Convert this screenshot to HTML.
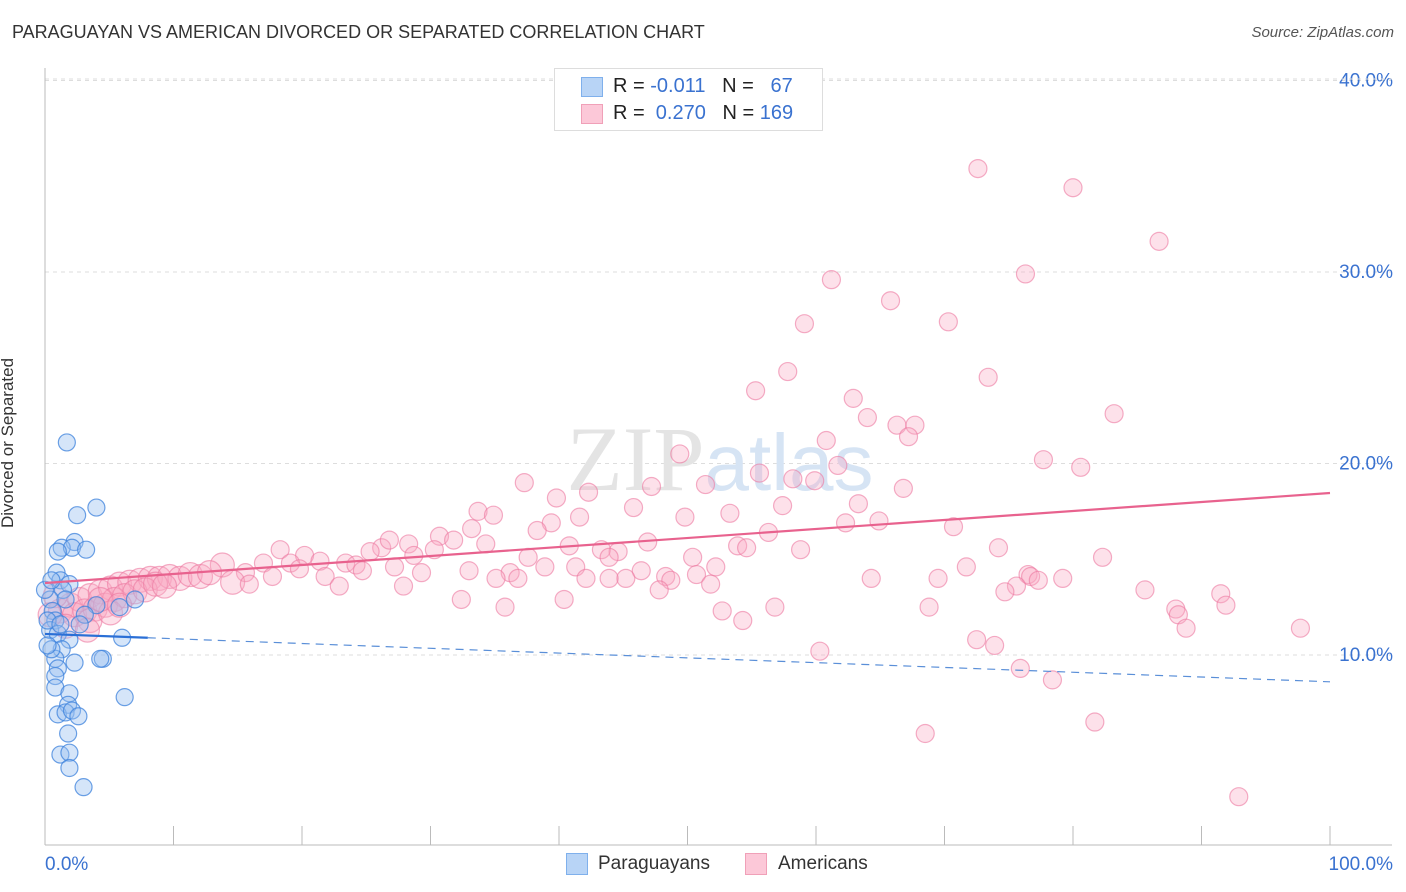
<!DOCTYPE html>
<html><head><meta charset="utf-8">
<style>
body{margin:0;background:#fff;font-family:"Liberation Sans",sans-serif;}
#wrap{position:relative;width:1406px;height:892px;overflow:hidden;}
.t{position:absolute;white-space:nowrap;}
</style></head>
<body>
<div id="wrap">
<div class="t" style="left:12px;top:22px;font-size:18px;color:#333;">PARAGUAYAN VS AMERICAN DIVORCED OR SEPARATED CORRELATION CHART</div>
<div class="t" style="right:12px;top:24px;font-size:15px;color:#555;font-style:italic;">Source: ZipAtlas.com</div>
<div class="t" style="left:8px;top:455px;font-size:17px;color:#333;transform:translate(0,-50%) rotate(-90deg);transform-origin:center;width:0;display:flex;justify-content:center;"><span style="display:inline-block;transform:translateX(12px)">Divorced or Separated</span></div>
<svg id="plot" width="1406" height="892" style="position:absolute;left:0;top:0"></svg>
<div class="t" style="left:554px;top:68px;width:267px;height:61px;border:1px solid #ddd;background:#fff;">
 <div style="position:absolute;left:26px;top:8px;width:20px;height:18px;background:#b8d4f6;border:1px solid #7fb0ec;"></div>
 <div style="position:absolute;left:26px;top:35px;width:20px;height:18px;background:#fcc8d8;border:1px solid #f0a0b8;"></div>
 <div style="position:absolute;left:58px;top:6px;font-size:20px;color:#222">R = <span style="color:#3a72d0">-0.011</span>&nbsp;&nbsp;&nbsp;N = &nbsp;&nbsp;<span style="color:#3a72d0">67</span></div>
 <div style="position:absolute;left:58px;top:33px;font-size:20px;color:#222">R = &nbsp;<span style="color:#3a72d0">0.270</span>&nbsp;&nbsp;&nbsp;N = <span style="color:#3a72d0">169</span></div>
</div>
<div class="t" style="left:566px;top:853px;width:20px;height:20px;background:#b8d4f6;border:1px solid #7fb0ec;"></div>
<div class="t" style="left:598px;top:853px;font-size:19px;color:#333">Paraguayans</div>
<div class="t" style="left:745px;top:853px;width:20px;height:20px;background:#fcc8d8;border:1px solid #f0a0b8;"></div>
<div class="t" style="left:778px;top:853px;font-size:19px;color:#333">Americans</div>
</div>
<script>
const yTicks=[10,20,30,40];
const yTickLabels=["10.0%","20.0%","30.0%","40.0%"];
const xTicks=[0,10,20,30,40,50,60,70,80,90,100];
const xEndLabels=["0.0%","100.0%"];
const pinkX=[72.6,80.0,86.7,61.2,76.3,65.8,59.1,70.3,57.8,73.4,55.3,62.9,83.2,64.0,66.3,67.7,67.2,60.8,49.4,77.7,80.6,61.7,55.6,58.2,59.9,37.3,42.3,47.2,51.4,66.8,39.8,63.3,57.4,45.8,33.7,53.3,34.9,49.8,41.6,39.4,64.9,62.3,70.7,33.2,30.7,56.3,38.3,31.8,34.3,28.3,26.2,26.8,30.3,28.7,25.3,40.8,43.3,46.9,53.9,54.6,58.8,74.2,44.6,43.9,50.4,82.3,37.6,18.3,20.2,21.4,23.4,19.1,17.0,24.2,13.8,27.2,38.9,52.2,71.7,33.0,29.3,24.7,19.8,36.2,41.3,46.4,76.5,76.7,50.7,48.3,21.8,35.1,36.8,42.1,45.2,64.3,69.5,79.2,77.3,48.7,43.9,51.8,75.6,74.7,85.6,91.5,47.8,27.9,22.9,17.7,15.6,14.6,15.9,32.4,40.4,91.9,68.8,56.8,52.7,88.0,88.2,35.8,54.3,88.8,97.7,72.5,73.9,60.3,75.9,78.4,81.7,68.5,92.9,1.2,2.0,2.7,3.5,4.3,5.1,5.8,6.6,7.4,8.2,8.9,9.7,10.5,11.3,12.1,12.8,2.3,3.1,3.9,4.7,5.4,6.2,7.0,7.8,8.6,9.3,1.6,3.5,5.1,0.8,4.3,0.4,3.3,5.8];
const pinkY=[35.4,34.4,31.6,29.6,29.9,28.5,27.3,27.4,24.8,24.5,23.8,23.4,22.6,22.4,22.0,22.0,21.4,21.2,20.5,20.2,19.8,19.9,19.5,19.2,19.1,19.0,18.5,18.8,18.9,18.7,18.2,17.9,17.8,17.7,17.5,17.4,17.3,17.2,17.2,16.9,17.0,16.9,16.7,16.6,16.2,16.4,16.5,16.0,15.8,15.8,15.6,16.0,15.5,15.2,15.4,15.7,15.5,15.9,15.7,15.6,15.5,15.6,15.4,15.1,15.1,15.1,15.1,15.5,15.2,14.9,14.8,14.8,14.8,14.7,14.7,14.6,14.6,14.6,14.6,14.4,14.3,14.4,14.5,14.3,14.6,14.4,14.2,14.1,14.2,14.1,14.1,14.0,14.0,14.0,14.0,14.0,14.0,14.0,13.9,13.9,14.0,13.7,13.6,13.3,13.4,13.2,13.4,13.6,13.6,14.1,14.3,13.8,13.7,12.9,12.9,12.6,12.5,12.5,12.3,12.4,12.1,12.5,11.8,11.4,11.4,10.8,10.5,10.2,9.3,8.7,6.5,5.9,2.6,12.3,12.6,12.9,13.1,13.3,13.5,13.7,13.8,13.9,14.0,14.0,14.1,14.0,14.2,14.1,14.3,12.1,12.3,12.4,12.6,12.9,13.1,13.3,13.4,13.7,13.6,11.5,11.8,12.2,13.1,12.9,12.1,11.3,12.6];
const blueX=[1.7,4.0,2.5,2.3,1.3,2.1,3.2,1.0,0.9,1.2,1.9,1.4,0.4,0.6,0.8,0.4,1.0,1.9,6.0,7.0,5.8,4.0,3.1,1.3,0.8,1.0,2.3,4.5,4.3,0.8,0.8,1.9,6.2,1.8,1.0,1.6,2.1,2.6,1.8,1.2,1.9,1.9,3.0,0.5,0.2,0.0,0.5,1.6,2.7,0.2,1.2];
const blueY=[21.1,17.7,17.3,15.9,15.6,15.6,15.5,15.4,14.3,13.9,13.7,13.4,12.9,12.3,11.8,11.3,11.1,10.8,10.9,12.9,12.5,12.6,12.1,10.3,9.8,9.3,9.6,9.8,9.8,8.9,8.3,8.0,7.8,7.4,6.9,7.0,7.1,6.8,5.9,4.8,4.9,4.1,3.1,10.3,11.8,13.4,13.9,12.9,11.6,10.5,11.6];
const pinkTrend=[13.76,18.46];
const blueTrend=[11.1,8.6];
const blueSolidEnd=8;

const X0=45,X1=1330,Y0=846.5,YS=19.15;
const sx=v=>X0+(X1-X0)*v/100;
const sy=v=>Y0-v*YS;
const svg=document.getElementById('plot');
const NS='http://www.w3.org/2000/svg';
function mk(tag,attrs){const e=document.createElementNS(NS,tag);for(const k in attrs)e.setAttribute(k,attrs[k]);svg.appendChild(e);return e;}

yTicks.forEach((t,i)=>{
 const g=mk('line',{x1:45,x2:1392,y1:sy(t),y2:sy(t),stroke:'#ddd','stroke-dasharray':'4,4'});
 
 
 const l=mk('text',{x:1393,y:sy(t)+6,'text-anchor':'end','font-size':19,fill:'#3a72d0','font-family':'Liberation Sans, sans-serif'});
 l.textContent=yTickLabels[i];
 
 
});
const topG=mk('line',{x1:45,x2:1392,y1:79,y2:79,stroke:'#ddd','stroke-dasharray':'4,4'});


const ya=mk('line',{x1:45,x2:45,y1:68,y2:845,stroke:'#bbb'});


const xa=mk('line',{x1:45,x2:1392,y1:845,y2:845,stroke:'#bbb'});


xTicks.forEach(t=>{
 const k=mk('line',{x1:sx(t),x2:sx(t),y1:826,y2:845,stroke:'#bbb'});
 
 
});
[[0,'start',45],[100,'end',1393]].forEach((a,i)=>{
 const l=mk('text',{x:a[2],y:870,'text-anchor':a[1],'font-size':19,fill:'#3a72d0','font-family':'Liberation Sans, sans-serif'});
 l.textContent=xEndLabels[i];
 
 
});
const wm=mk('text',{x:720,y:490,'text-anchor':'middle','font-size':92,fill:'#e4e4e4','font-family':'Liberation Serif, serif'});
wm.innerHTML='ZIP<tspan fill="#d6e4f4" font-family="Liberation Sans, sans-serif" font-size="80">atlas</tspan>';



pinkX.forEach((v,i)=>{
 const c=mk('circle',{cx:sx(v),cy:sy(pinkY[i]),r:v<15?12:9,fill:'rgba(248,170,195,0.35)',stroke:'rgba(236,120,160,0.6)','stroke-width':1.2});
 
 
});
blueX.forEach((v,i)=>{
 const c=mk('circle',{cx:sx(v),cy:sy(blueY[i]),r:8.5,fill:'rgba(150,190,240,0.4)',stroke:'rgba(60,130,220,0.75)','stroke-width':1.2});
 
 
});
const pt=mk('line',{x1:sx(0),y1:sy(pinkTrend[0]),x2:sx(100),y2:sy(pinkTrend[1]),stroke:'#e8628e','stroke-width':2.2});


const bmid=blueTrend[0]+(blueTrend[1]-blueTrend[0])*blueSolidEnd/100;
const bt=mk('line',{x1:sx(0),y1:sy(blueTrend[0]),x2:sx(blueSolidEnd),y2:sy(bmid),stroke:'#2a6fd6','stroke-width':2.2});


const bd=mk('line',{x1:sx(blueSolidEnd),y1:sy(bmid),x2:sx(100),y2:sy(blueTrend[1]),stroke:'#5a8fd8','stroke-width':1.2,'stroke-dasharray':'8,6'});


</script>
</body></html>
